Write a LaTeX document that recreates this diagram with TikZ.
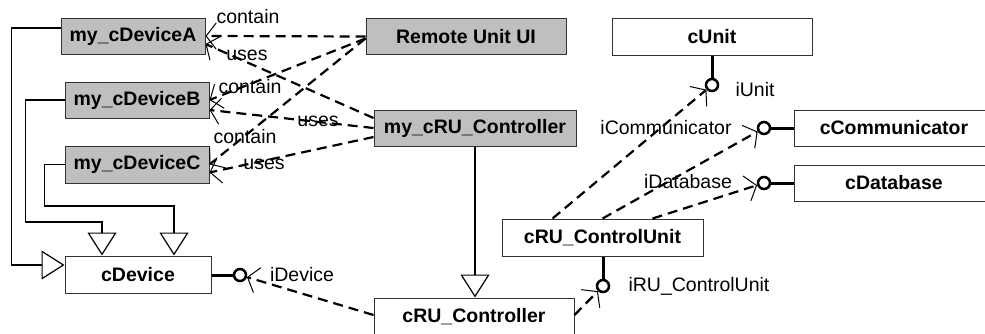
\documentclass[tikz,border=0pt]{standalone}
\usepackage{fontspec}
\setmainfont{Liberation Sans}
\usetikzlibrary{arrows.meta}

\tikzset{
  box/.style={draw=black!80, line width=1pt, fill=white, minimum height=36pt,
    inner sep=0pt, font=\bfseries\fontsize{19.5}{22}\selectfont},
  greybox/.style={box, fill=gray!50},
  lbl/.style={inner sep=0pt, font=\fontsize{19.5}{22}\selectfont},
  dep/.style={line width=2.2pt, dash pattern=on 10pt off 6pt,
    -{Straight Barb[length=10pt, width=26pt, line width=1pt]}},
  inh/.style={line width=1.5pt,
    -{Triangle[open, length=23pt, width=29pt, line width=1.2pt, fill=white]}},
  iface/.style={circle, draw, line width=2.5pt, fill=white, minimum size=12pt, inner sep=0pt},
  stick/.style={line width=3pt},
}

\begin{document}
\begin{tikzpicture}[x=1pt, y=-1pt]
\useasboundingbox (0,0) rectangle (985,333);

% classes
\node[greybox, minimum width=144pt] (devA) at (133,36) {my\_cDeviceA};
\node[greybox, minimum width=144pt] (devB) at (137,100) {my\_cDeviceB};
\node[greybox, minimum width=144pt, minimum height=37pt] (devC) at (137,164.5) {my\_cDeviceC};
\node[greybox, minimum width=200pt] (remote) at (466,36.5) {Remote Unit UI};
\node[greybox, minimum width=202pt] (myctrl) at (475,128) {my\_cRU\_Controller};
\node[box, minimum width=200pt, minimum height=37pt] (cunit) at (712,36.5) {cUnit};
\node[box, minimum width=200pt] (ccomm) at (894,128) {cCommunicator};
\node[box, minimum width=200pt] (cdb) at (894,183) {cDatabase};
\node[box, minimum width=201pt, minimum height=37pt] (ctrlunit) at (602.5,237.5) {cRU\_ControlUnit};
\node[box, minimum width=146pt, minimum height=37pt] (cdevice) at (138,274.5) {cDevice};
\node[box, minimum width=200pt, minimum height=38pt] (cructrl) at (474,317) {cRU\_Controller};

% provided interfaces (lollipops)
\node[iface] (iUnit) at (712,85) {};
\node[iface] (iComm) at (764,128) {};
\node[iface] (iDb) at (764,183) {};
\node[iface] (iDev) at (240,275) {};
\node[iface] (iRU) at (603,286) {};

\draw[stick] (cunit.south) -- (iUnit.north);
\draw[stick] (iComm.east) -- (ccomm.west);
\draw[stick] (iDb.east) -- (cdb.west);
\draw[stick] (cdevice.east |- iDev) -- (iDev.west);
\draw[stick] (ctrlunit.south -| iRU) -- (iRU.north);

% interface labels
\node[lbl] (tUnit) at (755,90) {iUnit};
\node[lbl] (tComm) at (666,128) {iCommunicator};
\node[lbl] (tDb) at (688,182) {iDatabase};
\node[lbl] (tDev) at (302,275) {iDevice};
\node[lbl] (tRU) at (699,286) {iRU\_ControlUnit};

% generalisations
\draw[inh] ([yshift=8pt]devA.west) -- ++(-49,0) |- ([yshift=9.5pt]cdevice.west);
\draw[inh] (devB.west) -- ++(-39,0) -- ++(0,122) -| ([xshift=-36pt]cdevice.north);
\draw[inh] (devC.west) -- ++(-20,0) -- ++(0,41.5) -| ([xshift=36pt]cdevice.north);
\draw[inh] (myctrl.south) -- (myctrl.south |- cructrl.north);

% containment dependencies
\draw[dep] (remote.west) -- (devA.east);
\draw[dep] ([yshift=-2pt]remote.west) -- (devB.east);
\draw[dep] ([yshift=-2pt]remote.west) -- (devC.east);

% usage dependencies
\draw[dep] ([yshift=10pt]myctrl.west) -- ([yshift=-8pt]devA.east);
\draw[dep] (myctrl.west) -- ([yshift=-10pt]devB.east);
\draw[dep] ([yshift=-9pt]myctrl.west) -- ([yshift=-8pt]devC.east);

% required interfaces
\draw[dep] ([xshift=-50pt]ctrlunit.north) -- (iUnit);
\draw[dep] (ctrlunit.north) -- (iComm);
\draw[dep] ([xshift=50pt]ctrlunit.north) -- (iDb);
\draw[dep] ([yshift=2pt]cructrl.west) -- (iDev);
\draw[dep] ([yshift=2pt]cructrl.east) -- (iRU);

% dependency labels
\node[lbl] (tContA) at (248,17) {contain};
\node[lbl] (tUsesA) at (247,55) {uses};
\node[lbl] (tContB) at (250,87) {contain};
\node[lbl] (tUsesB) at (318,121) {uses};
\node[lbl] (tContC) at (245,137) {contain};
\node[lbl] (tUsesC) at (264,164) {uses};
\end{tikzpicture}
\end{document}
